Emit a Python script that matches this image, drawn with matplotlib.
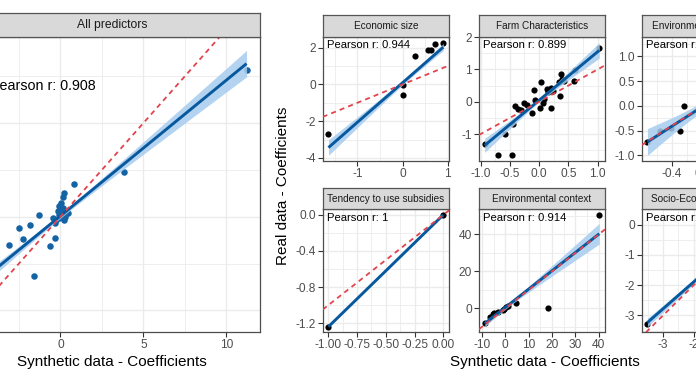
import numpy as np
import matplotlib
matplotlib.use("Agg")
import matplotlib.pyplot as plt
from matplotlib.ticker import MultipleLocator, FormatStrFormatter

plt.rcParams['font.family'] = ['Liberation Sans', 'DejaVu Sans']
plt.rcParams['axes.unicode_minus'] = False
plt.rcParams['lines.scale_dashes'] = False

# ---------------- data ----------------
# All predictors
all_x = [11.22, 3.86, 0.84, 0.20, 0.14, 0.04, -0.06, 0.14, -0.16, 0.44, 0.24, 0.04,
         -0.46, -0.26, -0.06, -0.30, 0.10, -0.10, 0.30, 0.20,
         -1.31, -1.81, -0.30, -0.62, -1.57, -2.47, -2.27, -3.11, -5.0, -4.1]
all_y = [7.82, 2.37, 1.75, 1.27, 1.05, 0.73, 0.55, 0.46, 0.28, 0.20, 0.16, 0.10,
         -0.07, -0.16, -0.07, -0.34, 0.30, 0.10, 0.00, -0.20,
         0.10, -0.46, -1.14, -1.59, -3.19, -0.60, -1.18, -1.53, -4.2, -5.44]
all_fit = [0.04, 0.725]           # intercept, slope
all_band = [0.12, 0.062, 0.0]     # min half-width, growth, centre

# Economic size
econ_x = [-1.64, 0.01, 0.0, 0.27, 0.56, 0.63, 0.72, 0.90]
econ_y = [-2.67, -0.02, -0.58, 1.54, 1.89, 1.85, 2.17, 2.27]
econ_fit = [0.09, 2.15]
econ_band = [0.12, 0.22, 0.2]

# Farm Characteristics
farm_x = [1.03, -0.93, -0.71, -0.46, -0.58, -0.44, -0.41, -0.36, -0.25, -0.31,
          -0.12, -0.07, 0.03, -0.09, 0.06, 0.01, 0.08, 0.14, 0.20, 0.23,
          0.20, 0.35, 0.34, 0.37, 0.39, 0.42, 0.62, 0.59, -0.20, 0.16]
farm_y = [1.65, -1.32, -1.66, -1.64, -1.01, -0.69, -0.14, -0.21, -0.05, -0.24,
          -0.35, 0.05, 0.60, 0.37, -0.03, -0.19, 0.07, 0.41, 0.44, 0.33,
          -0.19, 0.18, 0.60, 0.86, 0.70, 0.65, 0.97, 0.65, -0.10, 0.30]
farm_fit = [0.045, 1.5]
farm_band = [0.06, 0.226, 0.0]

# Environmental attitudes
enva_x = [-0.72, -0.56, -0.41, -0.29, -0.25, -0.05, 0.12, 0.28, 0.50, 0.77]
enva_y = [-0.73, -0.51, -0.45, -0.51, 0.00, 0.10, -0.05, 0.45, 0.40, 1.28]
enva_fit = [-0.01, 1.0]
enva_band = [0.10, 0.35, 0.0]

# Tendency to use subsidies
tend_x = [-1.0, 0.0]
tend_y = [-1.24, 0.0]
tend_fit = [0.0, 1.24]
tend_band = [0.0, 0.0, 0.0]

# Environmental context
ctx_x = [-8.8, -6.6, -5.4, -4.7, -3.1, -1.1, -0.4, 0.3, 1.0, 4.8, 18.4, 40.3]
ctx_y = [-7.8, -4.4, -3.2, -2.5, -2.2, -0.9, -0.3, 0.5, 1.5, 2.7, 0.4, 50.6]
ctx_fit = [0.5, 0.99]
ctx_band = [1.0, 0.14, 1.0]

# Socio-Economic context
socio_x = [-3.51, -1.5, -0.9, -0.5, -0.2, 0.23]
socio_y = [-3.27, -1.3, -1.0, -0.2, 0.32, 0.10]
socio_fit = [-0.12, 0.887]
socio_band = [0.06, 0.05, -1.0]

titles = ["Economic size", "Farm Characteristics", "Environmental attitudes",
          "Tendency to use subsidies", "Environmental context", "Socio-Economic context"]
pearson = ["0.944", "0.899", "0.931", "1", "0.914", "0.987"]

# ---------------- styling ----------------
W, H = 696, 385
fig = plt.figure(figsize=(W / 100, H / 100), dpi=100)

BLUE_LINE = '#08589E'
BLUE_PT = '#1464A5'
BAND = '#A7CCEE'
RED = '#E2434C'
GRID = '#EBEBEB'
BORDER = '#4D4D4D'
TICKC = '#4D4D4D'


def rect(l, r, t, b):
    return [l / W, 1 - b / H, (r - l) / W, (b - t) / H]


def panel(ax, x, y, fit, band, pcolor, psize, xstep, ystep, xfmt, yfmt):
    x = np.asarray(x, float)
    y = np.asarray(y, float)
    a, b = fit
    hw0, k, xc = band
    g = np.linspace(x.min(), x.max(), 200)
    line = a + b * g
    hw = np.sqrt(hw0 ** 2 + (k * (g - xc)) ** 2)
    ax.scatter(x, y, s=psize, color=pcolor, zorder=3, linewidths=0)
    if hw0 > 0 or k > 0:
        ax.fill_between(g, line - hw, line + hw, color=BAND, alpha=0.85, lw=0, zorder=4)
    ax.plot(g, line, color=BLUE_LINE, lw=2.1, zorder=5, solid_capstyle='butt')
    ax.axline((0, 0), slope=1, color=RED, lw=1.3, ls=(0, (3.6, 3.0)), zorder=6)
    x0, x1 = x.min(), x.max()
    y0 = min(y.min(), (line - hw).min())
    y1 = max(y.max(), (line + hw).max())
    dx, dy = (x1 - x0) * 0.05, (y1 - y0) * 0.05
    ax.set_xlim(x0 - dx, x1 + dx)
    ax.set_ylim(y0 - dy, y1 + dy)
    ax.xaxis.set_major_locator(MultipleLocator(xstep))
    ax.xaxis.set_minor_locator(MultipleLocator(xstep / 2))
    ax.yaxis.set_major_locator(MultipleLocator(ystep))
    ax.yaxis.set_minor_locator(MultipleLocator(ystep / 2))
    ax.xaxis.set_major_formatter(FormatStrFormatter(xfmt))
    ax.yaxis.set_major_formatter(FormatStrFormatter(yfmt))
    ax.grid(which='major', color=GRID, lw=1.0)
    ax.grid(which='minor', color=GRID, lw=0.6)
    ax.set_axisbelow(True)
    ax.tick_params(which='major', length=3.5, width=0.8, color='#333333',
                   labelsize=8.6, labelcolor=TICKC, pad=1.5)
    ax.tick_params(which='minor', length=0)
    for s in ax.spines.values():
        s.set_color(BORDER)
        s.set_linewidth(0.9)
    ax.set_facecolor('white')


def strip(r, text, size):
    sa = fig.add_axes(r)
    sa.set_facecolor('#D9D9D9')
    sa.set_xticks([])
    sa.set_yticks([])
    for s in sa.spines.values():
        s.set_color('#555555')
        s.set_linewidth(0.9)
    sa.text(0.5, 0.5, text, ha='center', va='center', fontsize=size,
            color='#1A1A1A', transform=sa.transAxes)


# ----- left plot: All predictors -----
axL = fig.add_axes(rect(-36, 260, 37, 332))
panel(axL, all_x, all_y, all_fit, all_band, BLUE_PT, 22, 5, 5, '%d', '%d')
axL.yaxis.set_minor_locator(MultipleLocator(2.5))
axL.text(26.5 / 296, 1 - 49 / 295, "Pearson r: 0.908", transform=axL.transAxes,
         ha='left', va='center', fontsize=10.3, color='black')
strip(rect(-36, 260, 13, 37), "All predictors", 8.7)
fig.text(112 / W, 1 - 362 / H, "Synthetic data - Coefficients", ha='center',
         va='center', fontsize=11, color='black')

# ----- right plot: facets -----
cols = [(322.7, 449), (479, 605), (641.7, 767.7)]
rows = [(37, 161), (209.3, 332.3)]
strips_y = [(15, 37), (187.7, 209.3)]

facet_data = [
    (econ_x, econ_y, econ_fit, econ_band, 1, 2, '%d', '%d'),
    (farm_x, farm_y, farm_fit, farm_band, 0.5, 1, '%.1f', '%d'),
    (enva_x, enva_y, enva_fit, enva_band, 0.4, 0.5, '%.1f', '%.1f'),
    (tend_x, tend_y, tend_fit, tend_band, 0.25, 0.4, '%.2f', '%.1f'),
    (ctx_x, ctx_y, ctx_fit, ctx_band, 10, 20, '%d', '%d'),
    (socio_x, socio_y, socio_fit, socio_band, 1, 1, '%d', '%d'),
]

for i, (fx, fy, ffit, fband, xs, ys, xf, yf) in enumerate(facet_data):
    r, c = divmod(i, 3)
    l, rr = cols[c]
    t, b = rows[r]
    ax = fig.add_axes(rect(l, rr, t, b))
    panel(ax, fx, fy, ffit, fband, 'black', 20, xs, ys, xf, yf)
    ax.text(4 / (rr - l), 1 - 8.5 / (b - t), "Pearson r: " + pearson[i],
            transform=ax.transAxes, ha='left', va='center', fontsize=8.1, color='black')
    st, sb = strips_y[r]
    strip(rect(l, rr, st, sb), titles[i], 7.2)

fig.text(283 / W, 1 - 186 / H, "Real data - Coefficients", rotation=90, ha='center',
         va='center', fontsize=11, color='black')
fig.text(545 / W, 1 - 362 / H, "Synthetic data - Coefficients", ha='center',
         va='center', fontsize=11, color='black')

fig.savefig("out.png", dpi=100)
